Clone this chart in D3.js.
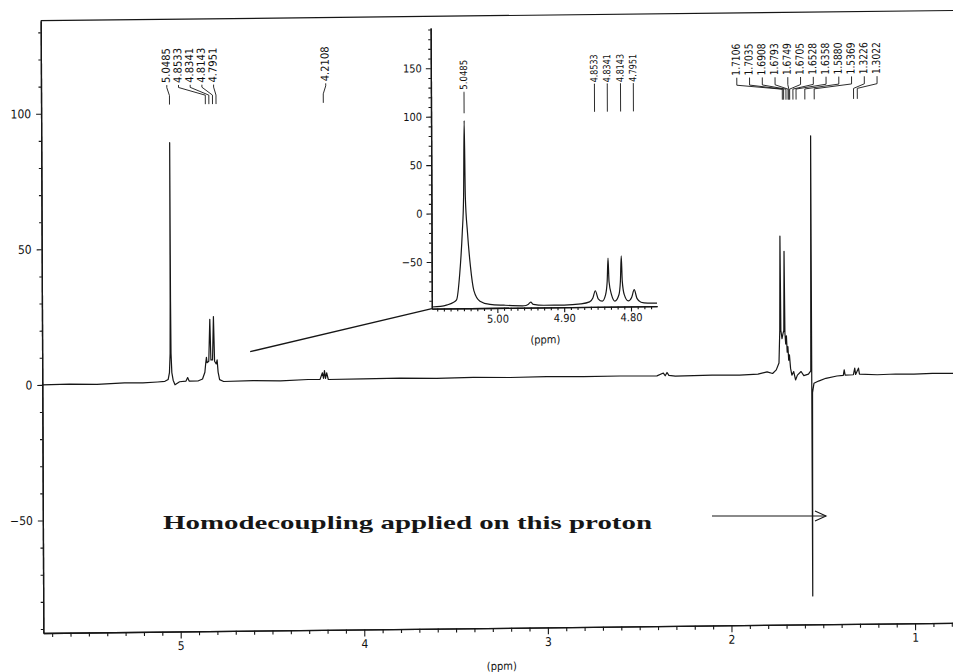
<!DOCTYPE html>
<html><head><meta charset="utf-8">
<script src="https://cdn.jsdelivr.net/npm/d3@7"></script>
<style>
html,body{margin:0;padding:0;background:#fff;}
svg{display:block;}
.tk{font-family:"Liberation Sans Narrow","DejaVu Sans Condensed","Liberation Sans",Arial,sans-serif;fill:#111;}
</style></head>
<body><svg id="c" width="953" height="672"></svg>
<script>
// ---------------- DATA ----------------
const mainXTicks = [5, 4, 3, 2, 1];
const mainYTicks = [-50, 0, 50, 100];
const insetXTicks = [5.00, 4.90, 4.80];
const insetYTicks = [-50, 0, 50, 100, 150];

const leftPeakLabels = [5.0485, 4.8533, 4.8341, 4.8143, 4.7951];
const singlePeakLabels = [4.2108];
const rightPeakLabels = [1.7106, 1.7035, 1.6908, 1.6793, 1.6749, 1.6705, 1.6528, 1.6358, 1.5880, 1.5369, 1.3226, 1.3022];
const insetPeakLabels = [5.0485, 4.8533, 4.8341, 4.8143, 4.7951];

// main spectrum [ppm, intensity]
const mainSpectrum = [
 [5.748,0.0],[5.60,0.2],[5.45,0.0],[5.30,0.4],[5.20,0.3],[5.12,0.6],[5.08,0.8],[5.062,1.5],[5.055,4],[5.051,11],
 [5.0495,30],[5.0485,88.8],[5.0475,30],[5.046,11],[5.042,4],[5.035,1.2],[5.025,-0.5],[5.00,0.6],[4.965,0.8],[4.956,2.1],
 [4.948,0.8],[4.90,0.8],[4.875,1.5],[4.862,4],[4.857,7.5],[4.8533,9.5],[4.850,7.5],[4.8405,8],[4.8341,23.5],[4.829,8.5],
 [4.820,8.5],[4.8143,24.5],[4.809,8],[4.800,7],[4.7951,8.5],[4.790,4],[4.782,1.2],[4.76,0.5],[4.60,0.7],[4.45,0.5],
 [4.30,0.9],[4.235,0.9],[4.222,3.3],[4.216,1.2],[4.2108,4.1],[4.205,1.2],[4.199,3.3],[4.19,0.8],[4.0,0.9],[3.8,1.0],
 [3.6,0.8],[3.4,1.0],[3.2,0.8],[3.0,1.0],[2.8,0.8],[2.6,0.9],[2.40,0.8],[2.365,1.8],[2.355,0.8],[2.345,2.0],
 [2.335,0.9],[2.30,0.6],[2.1,0.8],[1.95,0.7],[1.85,1.0],[1.80,1.8],[1.77,1.2],[1.75,2.5],[1.735,5],[1.73,17],
 [1.727,51.8],[1.724,17],[1.718,14],[1.712,16],[1.708,17],[1.705,46.2],[1.702,16],[1.698,12],[1.694,15],[1.690,9],
 [1.686,11],[1.682,6],[1.678,8],[1.672,3],[1.665,0.5],[1.655,1.8],[1.645,-1.3],[1.635,0.5],[1.615,1.8],[1.60,0.3],
 [1.575,0.8],[1.562,2],[1.5575,88.7],[1.5565,-81],[1.553,-6],[1.545,-2.6],[1.52,-1.8],[1.48,-0.8],[1.42,0],[1.385,0.2],
 [1.38,2.2],[1.375,0.3],[1.330,0.4],[1.3226,2.8],[1.318,0.5],[1.3022,2.8],[1.297,0.6],[1.20,0.3],[1.10,0.5],[1.00,0.4],
 [0.90,0.6],[0.779,0.5]
];

// inset (expanded 5.10 - 4.76 ppm) [ppm, intensity]
const insetSpectrum = [
 [5.098,-96.5],[5.085,-96],[5.075,-94.5],[5.066,-92],[5.061,-89.5],[5.056,-62],[5.052,-20],[5.0498,17],[5.0485,95.5],[5.0472,17],
 [5.0442,-20],[5.040,-55],[5.035,-80],[5.026,-91],[5.011,-94.5],[4.99,-95.5],[4.96,-96.3],[4.954,-95],[4.950,-92.6],[4.946,-95],
 [4.93,-96],[4.90,-96],[4.875,-95],[4.862,-93],[4.857,-89],[4.8533,-81.6],[4.849,-90],[4.843,-92.5],[4.838,-86],[4.8355,-72.5],
 [4.8341,-48],[4.8327,-72.5],[4.829,-86],[4.824,-92.5],[4.818,-86],[4.8157,-72],[4.8143,-46],[4.8129,-72],[4.810,-86],[4.804,-92.5],
 [4.799,-89],[4.7951,-81],[4.791,-90],[4.785,-94],[4.775,-95],[4.761,-95.2]
];

const zoomLinkStart = [4.615, 11.4];  // point on main spectrum frame where link line starts
const annotationText = "Homodecoupling applied on this proton";

// ---------------- DRAW ----------------
const svg = d3.select("#c");
const INK = "#161616";
svg.append("rect").attr("width",953).attr("height",672).attr("fill","#fff");

// slight scan skew of the whole plot
const g = svg.append("g").attr("transform","matrix(1,-0.0112,0.0043,1,-0.086,0.47)");

const x = d3.scaleLinear().domain([5.748, 0.779]).range([40.7, 953]);
const y = d3.scaleLinear().domain([-91.5, 134.3]).range([633, 20.7]);

function styleAxis(sel){
  sel.selectAll("path.domain").attr("stroke",INK).attr("stroke-width",1.3);
  sel.selectAll(".tick line").attr("stroke",INK).attr("stroke-width",1.1);
  sel.selectAll(".tick text").attr("class","tk").attr("fill",INK);
}

// top frame line
g.append("line").attr("x1",x.range()[0]).attr("x2",x.range()[1])
  .attr("y1",y.range()[1]).attr("y2",y.range()[1])
  .attr("stroke",INK).attr("stroke-width",1.2);

// main y axis
const fmt = d3.format("d");
g.append("g").attr("transform",`translate(${x.range()[0]},0)`)
  .call(d3.axisLeft(y).tickValues(d3.range(-90,135,10).filter(v=>v%50!==0)).tickSize(2.5).tickSizeOuter(0).tickFormat(""))
  .call(styleAxis);
const yax = g.append("g").attr("transform",`translate(${x.range()[0]},0)`)
  .call(d3.axisLeft(y).tickValues(mainYTicks).tickSize(5).tickSizeOuter(0).tickPadding(5).tickFormat(fmt))
  .call(styleAxis);
yax.selectAll(".tick text").attr("font-size",12);

// main x axis
g.append("g").attr("transform",`translate(0,${y.range()[0]})`)
  .call(d3.axisBottom(x).tickValues(d3.range(57,7,-1).filter(v=>v%10!==0).map(v=>v/10)).tickSize(4).tickSizeOuter(0).tickFormat(""))
  .call(styleAxis);
const xax = g.append("g").attr("transform",`translate(0,${y.range()[0]})`)
  .call(d3.axisBottom(x).tickValues(mainXTicks).tickSize(7).tickSizeOuter(0).tickPadding(3).tickFormat(fmt))
  .call(styleAxis);
xax.selectAll(".tick text").attr("font-size",12);
g.append("text").attr("class","tk").attr("x",499).attr("y",675).attr("text-anchor","middle")
  .attr("font-size",11).text("(ppm)");

// main spectrum
const line = d3.line().x(d=>x(d[0])).y(d=>y(d[1]));
g.append("path").datum(mainSpectrum).attr("d",line).attr("fill","none")
  .attr("stroke",INK).attr("stroke-width",1.2).attr("stroke-linejoin","round");

// peak labels (main)
function peakLabels(parent, vals, xs, labelXs, textBottom, textLen, fs, yB, yC, yD){
  vals.forEach((v,i)=>{
    const lx = labelXs[i], px = xs(v);
    parent.append("text").attr("class","tk").attr("font-size",fs)
      .attr("transform",`translate(${lx},${textBottom}) rotate(-90)`)
      .attr("dominant-baseline","middle").attr("text-anchor","start")
      .attr("textLength",textLen).attr("lengthAdjust","spacingAndGlyphs")
      .text(v.toFixed(4));
    parent.append("path").attr("d",`M${lx},${textBottom+2}L${lx},${yB}L${px},${yC}L${px},${yD}`)
      .attr("fill","none").attr("stroke",INK).attr("stroke-width",0.9);
  });
}
peakLabels(g, leftPeakLabels, x, leftPeakLabels.map((v,i)=>166.5+i*11.7), 84.5, 35, 11, 89, 97, 106);
peakLabels(g, singlePeakLabels, x, singlePeakLabels.map(v=>x(v)+2.5), 84.5, 35, 11, 89, 97, 106);
peakLabels(g, rightPeakLabels, x, rightPeakLabels.map((v,i)=>736.5+i*12.75), 83.5, 32, 11, 93, 97.5, 108);

// inset
const xi = d3.scaleLinear().domain([5.098, 4.761]).range([430.6, 655.8]);
const yi = d3.scaleLinear().domain([-98.2, 191.6]).range([313, 32.3]);
const ins = g.append("g");
// zoom link line
ins.append("line").attr("x1",x(zoomLinkStart[0])).attr("y1",y(zoomLinkStart[1]))
  .attr("x2",xi.range()[0]).attr("y2",yi.range()[0]).attr("stroke",INK).attr("stroke-width",1.3);
// white background for inset area
ins.append("rect").attr("x",xi.range()[0]+1).attr("y",yi.range()[1]).attr("width",xi.range()[1]-xi.range()[0])
  .attr("height",yi.range()[0]-yi.range()[1]-1).attr("fill","#fff");
ins.append("g").attr("transform",`translate(${xi.range()[0]},0)`)
  .call(d3.axisLeft(yi).tickValues(d3.range(-90,195,10).filter(v=>v%50!==0)).tickSize(2.5).tickSizeOuter(0).tickFormat(""))
  .call(styleAxis);
const iy = ins.append("g").attr("transform",`translate(${xi.range()[0]},0)`)
  .call(d3.axisLeft(yi).tickValues(insetYTicks).tickSize(5).tickSizeOuter(0).tickPadding(4).tickFormat(fmt))
  .call(styleAxis);
iy.selectAll(".tick text").attr("font-size",11);
ins.append("g").attr("transform",`translate(0,${yi.range()[0]})`)
  .call(d3.axisBottom(xi).tickValues(d3.range(509,476,-1).filter(v=>v%10!==0).map(v=>v/100)).tickSize(3).tickSizeOuter(0).tickFormat(""))
  .call(styleAxis);
const ixa = ins.append("g").attr("transform",`translate(0,${yi.range()[0]})`)
  .call(d3.axisBottom(xi).tickValues(insetXTicks).tickSize(5).tickSizeOuter(0).tickPadding(2).tickFormat(d3.format(".2f")))
  .call(styleAxis);
ixa.selectAll(".tick text").attr("font-size",11);
ins.append("text").attr("class","tk").attr("x",544).attr("y",349).attr("text-anchor","middle")
  .attr("font-size",11).text("(ppm)");
const linei = d3.line().x(d=>xi(d[0])).y(d=>yi(d[1])).curve(d3.curveMonotoneX);
ins.append("path").datum(insetSpectrum).attr("d",linei).attr("fill","none")
  .attr("stroke",INK).attr("stroke-width",1.2);
peakLabels(ins, insetPeakLabels.slice(0,1), xi, insetPeakLabels.slice(0,1).map(v=>xi(v)), 94.5, 30, 10, 97, 97, 118);
peakLabels(ins, insetPeakLabels.slice(1), xi, insetPeakLabels.slice(1).map(v=>xi(v)), 88.5, 28, 10, 90, 90, 118);

// annotation (not skewed)
svg.append("text").attr("x",163).attr("y",529)
  .attr("font-family","'Liberation Serif','DejaVu Serif',serif").attr("font-weight","bold")
  .attr("font-size",19).attr("fill",INK)
  .attr("textLength",489).attr("lengthAdjust","spacingAndGlyphs")
  .text(annotationText);
svg.append("line").attr("x1",712).attr("x2",826).attr("y1",516).attr("y2",516)
  .attr("stroke",INK).attr("stroke-width",1.1);
svg.append("path").attr("d","M815,511L826,516L815,521").attr("fill","none")
  .attr("stroke",INK).attr("stroke-width",1.1);
</script></body></html>
